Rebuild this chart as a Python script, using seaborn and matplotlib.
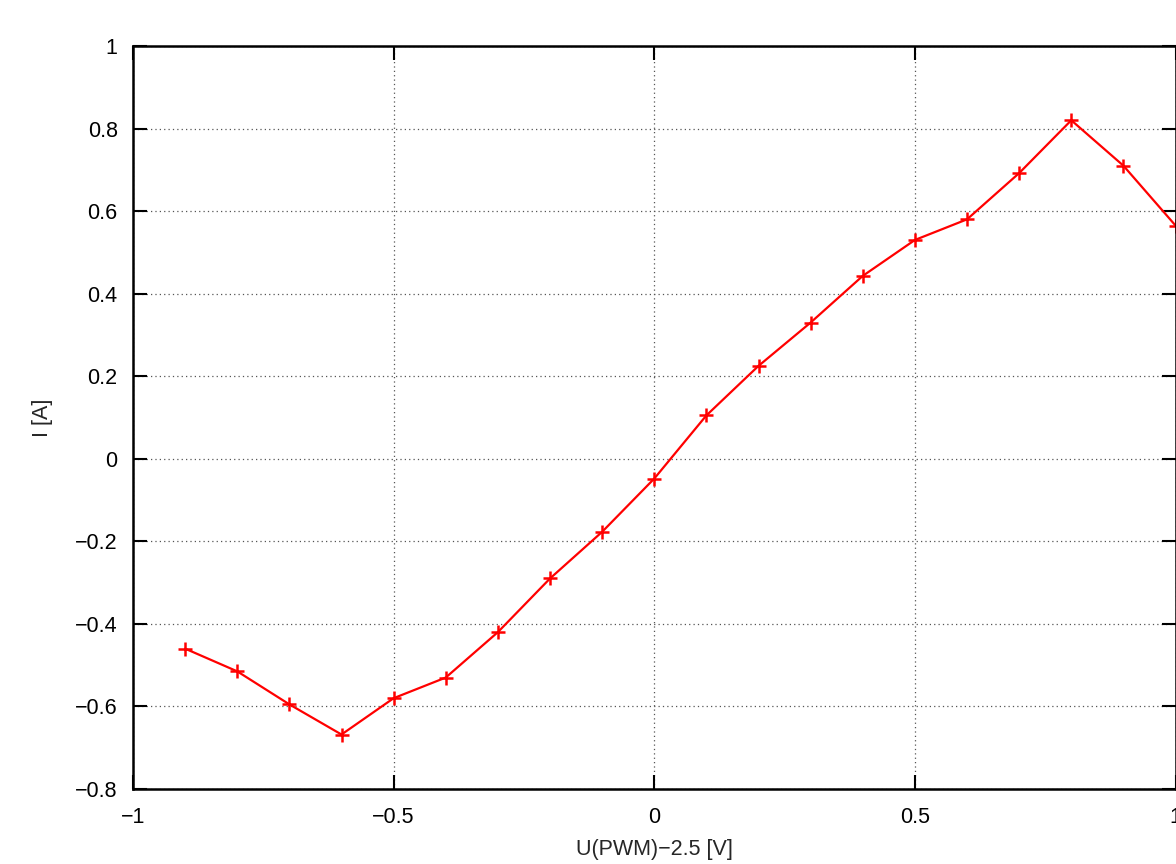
import matplotlib
matplotlib.use("Agg")
import matplotlib.pyplot as plt
import seaborn as sns
import pandas as pd

# measured points
u_pwm = [-0.9, -0.8, -0.7, -0.6, -0.5, -0.4, -0.3, -0.2, -0.1, 0.0,
         0.1, 0.2, 0.3, 0.4, 0.5, 0.6, 0.7, 0.8, 0.9, 1.0]
current = [-0.46, -0.515, -0.595, -0.668, -0.58, -0.53, -0.42, -0.29, -0.177, -0.048,
           0.105, 0.225, 0.33, 0.443, 0.53, 0.58, 0.692, 0.82, 0.71, 0.565]

x_ticks = [-1, -0.5, 0, 0.5, 1]
x_tick_labels = ["\u22121", "\u22120.5", "0", "0.5", "1"]
y_ticks = [-0.8, -0.6, -0.4, -0.2, 0, 0.2, 0.4, 0.6, 0.8, 1]
y_tick_labels = ["\u22120.8", "\u22120.6", "\u22120.4", "\u22120.2", "0",
                 "0.2", "0.4", "0.6", "0.8", "1"]

sns.set_style("ticks")
plt.rcParams["font.family"] = ["Liberation Sans", "DejaVu Sans"]

df = pd.DataFrame({"u": u_pwm, "i": current})

fig = plt.figure(figsize=(11.76, 8.64), dpi=100)
ax = fig.add_axes([0.1131, 0.0868, 0.8865, 0.86])

sns.lineplot(data=df, x="u", y="i", ax=ax, color="#ff0000", linewidth=1.6,
             marker="+", markersize=10, markeredgewidth=1.8, markeredgecolor="#ff0000")

ax.set_xlim(-1, 1)
ax.set_ylim(-0.8, 1)
ax.set_xticks(x_ticks)
ax.set_xticklabels(x_tick_labels)
ax.set_yticks(y_ticks)
ax.set_yticklabels(y_tick_labels)

ax.grid(True, linestyle=(0, (1, 2.5)), color="#555555", linewidth=0.9)
ax.tick_params(direction="in", length=10, width=1.5, labelsize=15.5,
               top=True, right=True, colors="black")
ax.tick_params(axis="x", pad=13)
ax.tick_params(axis="y", pad=11)
for s in ax.spines.values():
    s.set_linewidth(1.8)
    s.set_color("black")

ax.set_xlabel("U(PWM)\u22122.5 [V]", fontsize=15.5, labelpad=8)
ax.set_ylabel("I [A]", fontsize=15.5, labelpad=16)

fig.savefig("out.png", dpi=100)
